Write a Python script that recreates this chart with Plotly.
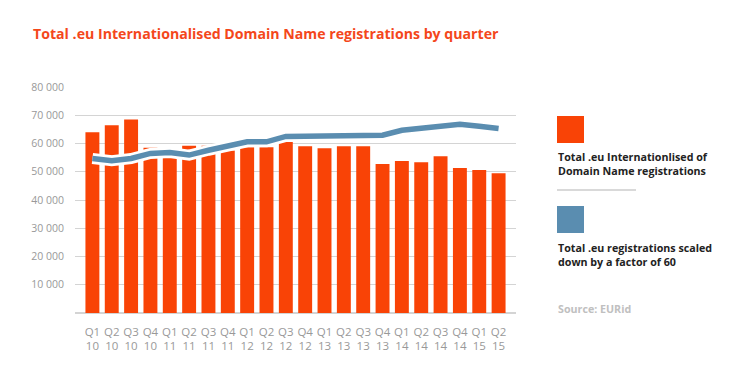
import plotly.graph_objects as go

quarters = ["Q1<br>10", "Q2<br>10", "Q3<br>10", "Q4<br>10", "Q1<br>11", "Q2<br>11", "Q3<br>11", "Q4<br>11",
            "Q1<br>12", "Q2<br>12", "Q3<br>12", "Q4<br>12", "Q1<br>13", "Q2<br>13", "Q3<br>13", "Q4<br>13",
            "Q1<br>14", "Q2<br>14", "Q3<br>14", "Q4<br>14", "Q1<br>15", "Q2<br>15"]
idn_registrations = [64000, 66500, 68500, 58500, 55000, 59200, 59200, 57500,
                     58700, 58700, 60500, 59000, 58300, 59000, 59000, 52700,
                     53800, 53400, 55500, 51300, 50600, 49500]
total_scaled = [54700, 53900, 54700, 56500, 56800, 55900, 57600, 59000,
                60600, 60600, 62500, 62600, 62650, 62750, 62850, 62950,
                64700, 65400, 66100, 66800, 66100, 65300]
y_tickvals = [10000, 20000, 30000, 40000, 50000, 60000, 70000, 80000]
y_ticktext = ["10 000", "20 000", "30 000", "40 000", "50 000", "60 000", "70 000", "80 000"]

ORANGE = "#F94306"
BLUE = "#5A8DB0"
OFF = 8  # page body margin
W, H = 740 - OFF, 387 - OFF
L, R, T, B = 75, 516, 87, 313  # target page pixels

def px(x):
    return (x - L) / (R - L)

def py(y):
    return (B - y) / (B - T)

x_idx = list(range(len(quarters)))

fig = go.Figure()
fig.add_trace(go.Bar(x=x_idx, y=idn_registrations, marker=dict(color=ORANGE, line=dict(width=0)),
                     hoverinfo="skip", showlegend=False))
fig.add_trace(go.Scatter(x=x_idx, y=total_scaled, mode="lines",
                         line=dict(color="white", width=11), hoverinfo="skip", showlegend=False))
fig.add_trace(go.Scatter(x=x_idx, y=total_scaled, mode="lines",
                         line=dict(color=BLUE, width=5.5), showlegend=False))

shapes = [
    dict(type="rect", xref="paper", yref="paper", x0=px(557), x1=px(584), y0=py(143), y1=py(116),
         fillcolor=ORANGE, line=dict(width=0)),
    dict(type="line", xref="paper", yref="paper", x0=px(557), x1=px(636), y0=py(190), y1=py(190),
         line=dict(color="#d9d9d9", width=2)),
    dict(type="rect", xref="paper", yref="paper", x0=px(557), x1=px(584), y0=py(233), y1=py(206),
         fillcolor=BLUE, line=dict(width=0)),
]

annotations = [
    dict(text="<b>Total .eu Internationalised Domain Name registrations by quarter</b>",
         xref="paper", yref="paper", x=px(31), y=py(33), xanchor="left", yanchor="middle",
         showarrow=False, font=dict(family="Open Sans", size=14.15, color="#F4471B")),
    dict(text="<b>Total .eu Internationlised of<br>Domain Name registrations</b>",
         xref="paper", yref="paper", x=px(556), y=py(163.5), xanchor="left", yanchor="middle",
         align="left", showarrow=False, font=dict(family="Open Sans", size=10.7, color="#222222")),
    dict(text="<b>Total .eu registrations scaled<br>down by a factor of 60</b>",
         xref="paper", yref="paper", x=px(556), y=py(254.5), xanchor="left", yanchor="middle",
         align="left", showarrow=False, font=dict(family="Open Sans", size=10.7, color="#222222")),
    dict(text="<b>Source: EURid</b>",
         xref="paper", yref="paper", x=px(556), y=py(309), xanchor="left", yanchor="middle",
         align="left", showarrow=False, font=dict(family="Open Sans", size=10.7, color="#c0c0c0")),
]

fig.update_layout(
    width=W, height=H,
    margin=dict(l=L - OFF, r=W - (R - OFF), t=T - OFF, b=H - (B - OFF), pad=0),
    paper_bgcolor="white", plot_bgcolor="white",
    bargap=0.28,
    shapes=shapes, annotations=annotations,
    font=dict(family="Open Sans", size=11, color="#999999"),
    xaxis=dict(tickmode="array", tickvals=x_idx, ticktext=quarters, range=[-0.9, 21.9],
               showgrid=False, zeroline=False, showline=False, ticks="", ticklabelstandoff=10,
               tickfont=dict(family="Open Sans", size=11.5, color="#999999")),
    yaxis=dict(range=[0, 80000], tickmode="array", tickvals=y_tickvals, ticktext=y_ticktext,
               showgrid=True, gridcolor="#d4d4d4", gridwidth=1,
               zeroline=True, zerolinecolor="#d4d4d4", zerolinewidth=1.5,
               showline=False, ticks="", ticklabelstandoff=10,
               tickfont=dict(family="Open Sans", size=10.5, color="#999999")),
)

fig.write_html("out.html")
